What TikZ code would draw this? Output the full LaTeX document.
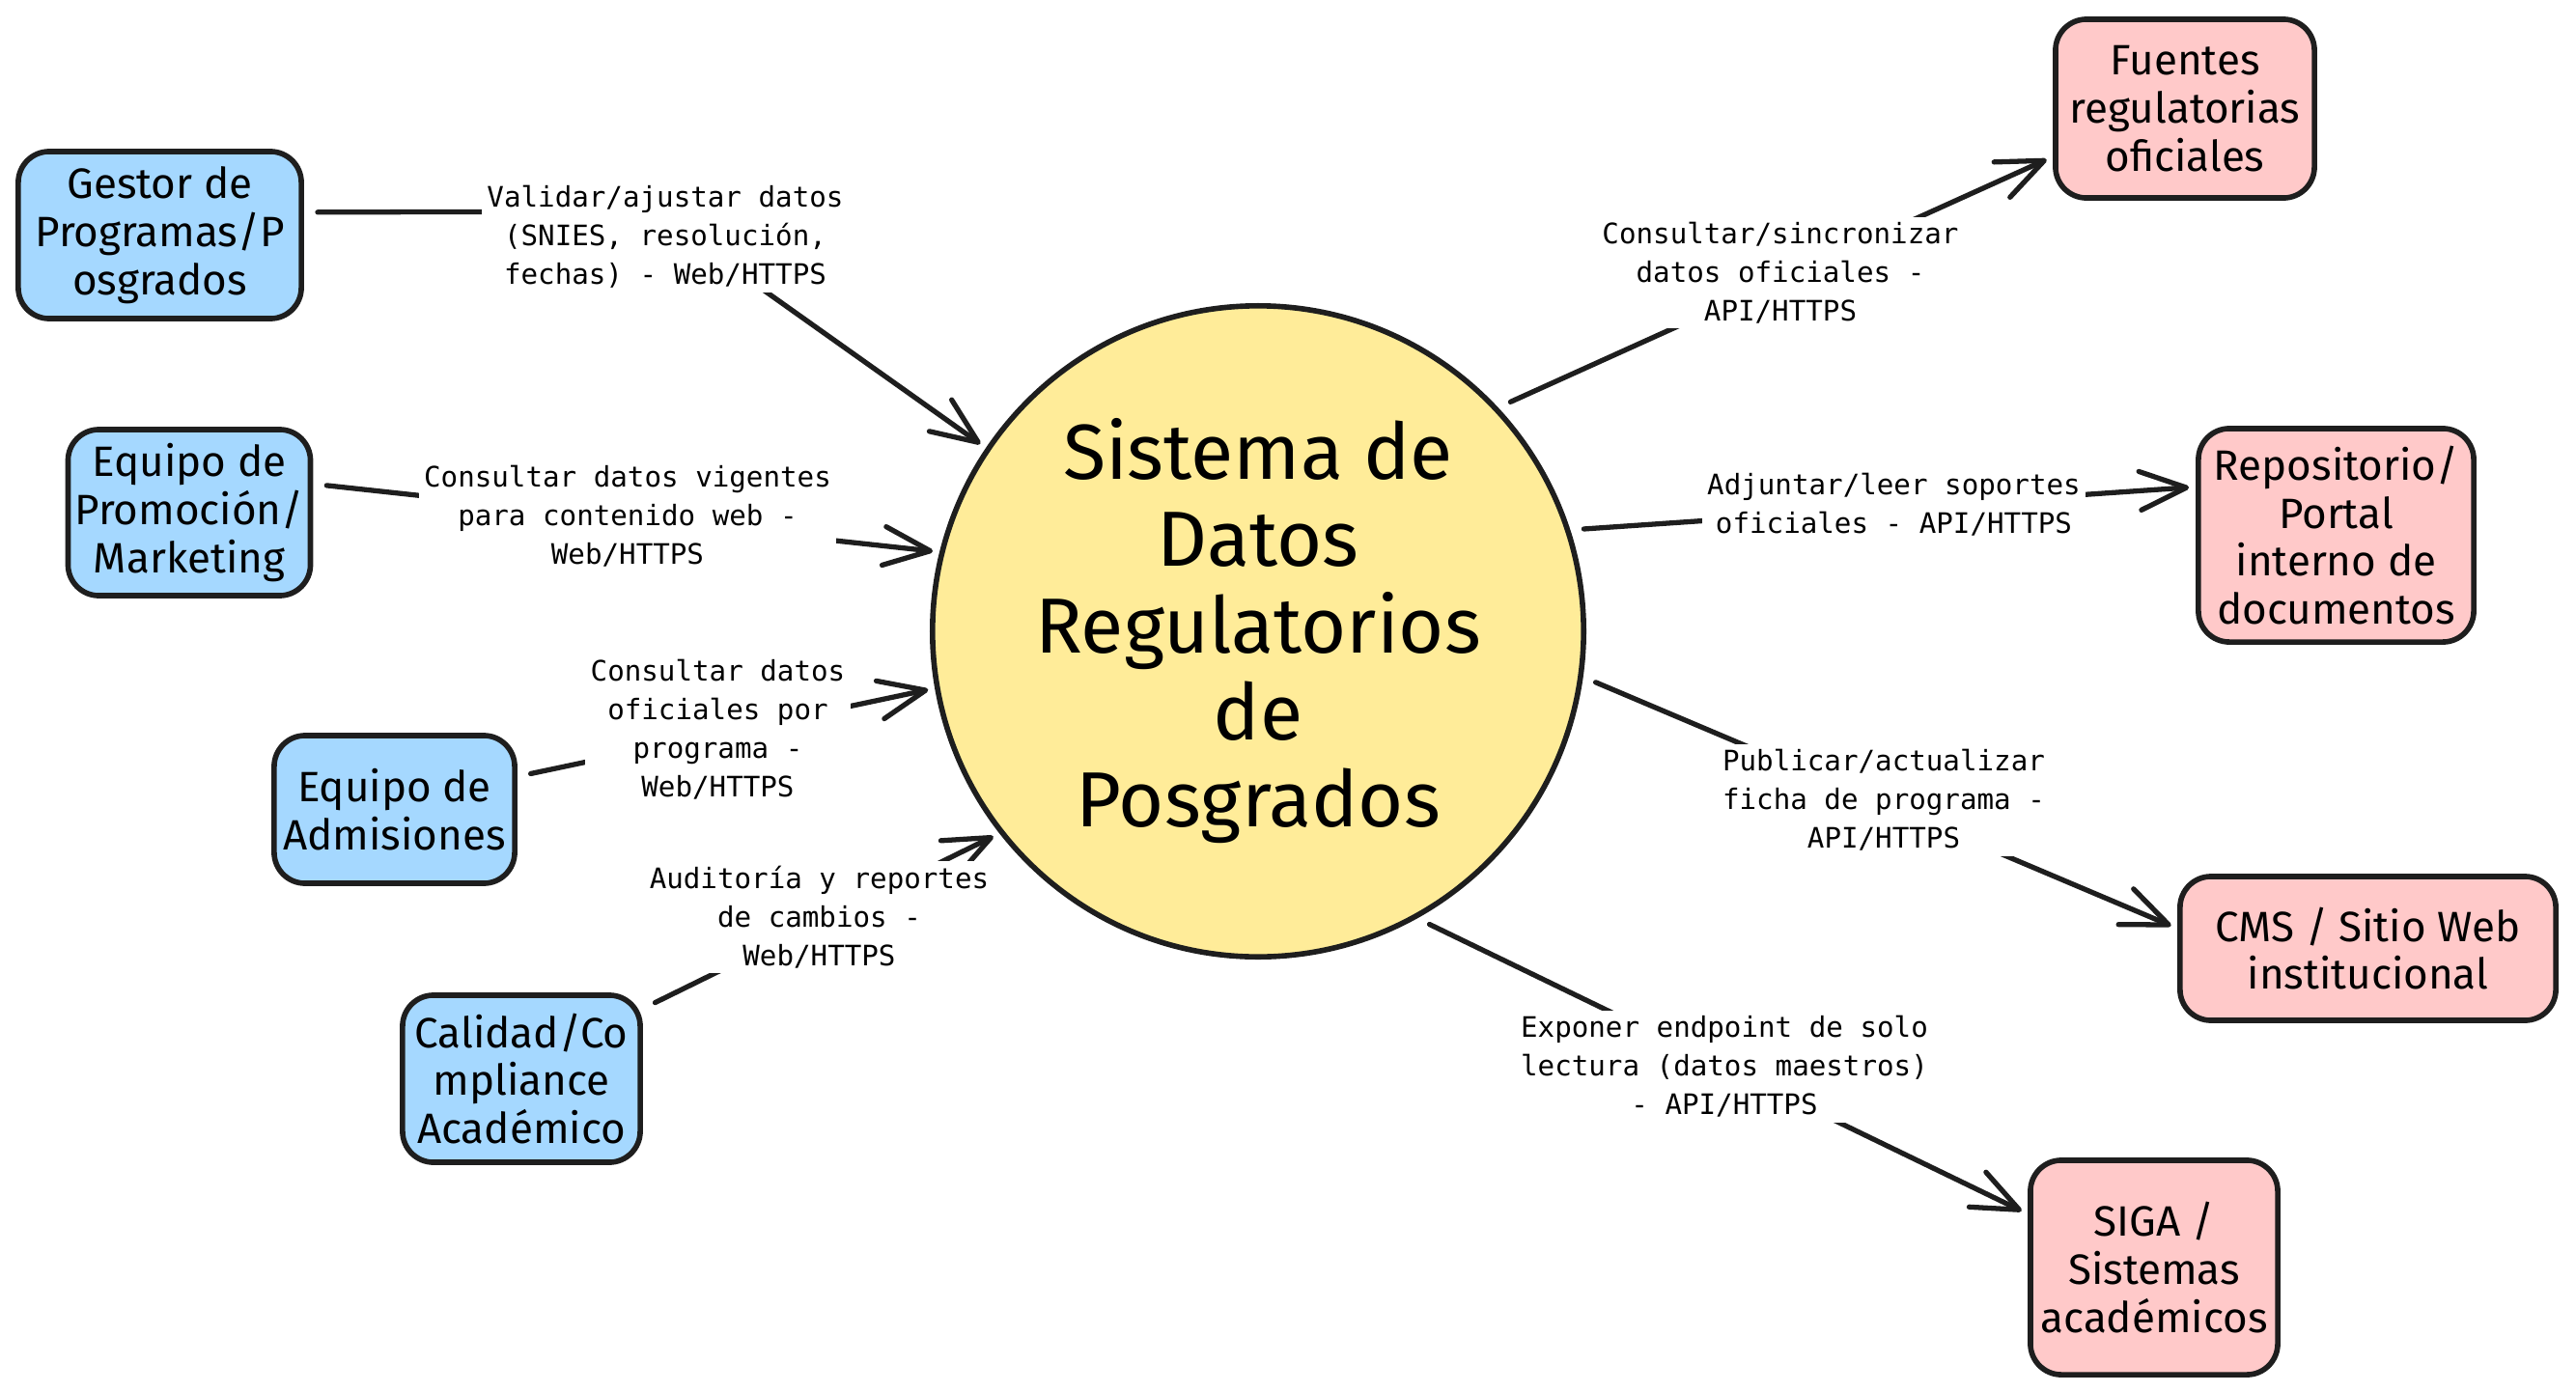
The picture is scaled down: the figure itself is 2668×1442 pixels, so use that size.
\documentclass[tikz,border=0pt]{standalone}
\usepackage{fontspec}
\setmainfont{Fira Sans}
\newfontfamily\lblfont{DejaVu Sans Mono}
\usepackage{xcolor}
\usetikzlibrary{arrows.meta,positioning}
\definecolor{ink}{HTML}{1E1E1E}
\definecolor{actorblue}{HTML}{A5D8FF}
\definecolor{extpink}{HTML}{FFC9C9}
\definecolor{coreyellow}{HTML}{FFEC99}

\begin{document}
\begin{tikzpicture}[
    x=0.01cm, y=-0.01cm,
    actor/.style={rectangle, draw=ink, fill=actorblue, line width=1.6pt, rounded corners=0.32cm, align=center, inner sep=2pt, font=\fontsize{12.5pt}{14.2pt}\selectfont},
    extsys/.style={actor, fill=extpink},
    core/.style={circle, draw=ink, fill=coreyellow, line width=1.6pt, minimum size=6.74cm, inner sep=0pt, align=center, font=\fontsize{23pt}{25.6pt}\selectfont},
    lbl/.style={fill=white, inner sep=1.5pt, align=center, font=\lblfont\fontsize{8.3pt}{11.4pt}\selectfont},
    arrow/.style={-{Straight Barb[length=4.8mm,width=4mm,round]}, draw=ink, line width=1.5pt, line cap=round, line join=round, shorten <=4pt, shorten >=2pt}
]
\useasboundingbox (0,0) rectangle (2668,1442);

% Central system
\node[core] (sys) at (1303,654) {Sistema de\\Datos\\Regulatorios\\de\\Posgrados};

% Internal actors
\node[actor, minimum width=2.93cm, minimum height=1.73cm] (gestor) at (165.5,243.5) {Gestor de\\Programas/P\\osgrados};
\node[actor, minimum width=2.46cm, minimum height=1.72cm] (promo) at (196,531) {Equipo de\\Promoción/\\Marketing};
\node[actor, minimum width=2.49cm, minimum height=1.53cm] (admis) at (408.5,838.5) {Equipo de\\Admisiones};
\node[actor, minimum width=2.46cm, minimum height=1.73cm] (calidad) at (540,1117.5) {Calidad/Co\\mpliance\\Académico};

% External systems
\node[extsys, minimum width=2.68cm, minimum height=1.85cm] (fuentes) at (2263,112.5) {Fuentes\\regulatorias\\oficiales};
\node[extsys, minimum width=2.85cm, minimum height=2.21cm] (repo) at (2419.5,554.5) {Repositorio/\\Portal\\interno de\\documentos};
\node[extsys, minimum width=3.89cm, minimum height=1.49cm] (cms) at (2452.5,982.5) {CMS / Sitio Web\\institucional};
\node[extsys, minimum width=2.56cm, minimum height=2.22cm] (siga) at (2231,1313) {SIGA /\\Sistemas\\académicos};

% Connections
\coordinate (bend) at (676,219);
\draw[arrow] (gestor.9) -- (bend) -- (sys.146);
\draw[arrow] (promo.13) -- (sys.166);
\draw[arrow] (admis.15) -- (sys.190);
\draw[arrow] (calidad.30) -- (sys.218);
\draw[arrow] (sys.43) -- (fuentes.200);
\draw[arrow] (sys.18) -- (repo.161);
\draw[arrow] (sys.352) -- (cms.174);
\draw[arrow] (sys.299) -- (siga.157);

% Connection labels
\node[lbl] (lvalidar) at (689,245) {Validar/ajustar datos\\(SNIES, resolución,\\fechas) - Web/HTTPS};
\node[lbl] (lvigentes) at (650,535) {Consultar datos vigentes\\para contenido web -\\Web/HTTPS};
\node[lbl] (loficiales) at (743.5,756) {Consultar datos\\oficiales por\\programa -\\Web/HTTPS};
\node[lbl] (lauditoria) at (848.5,950) {Auditoría y reportes\\de cambios -\\Web/HTTPS};
\node[lbl] (lsincro) at (1844,282.5) {Consultar/sincronizar\\datos oficiales -\\API/HTTPS};
\node[lbl] (lsoportes) at (1961.5,522.5) {Adjuntar/leer soportes\\oficiales - API/HTTPS};
\node[lbl] (lpublicar) at (1951,829) {Publicar/actualizar\\ficha de programa -\\API/HTTPS};
\node[lbl] (lexponer) at (1786,1105) {Exponer endpoint de solo\\lectura (datos maestros)\\- API/HTTPS};

\end{tikzpicture}
\end{document}
